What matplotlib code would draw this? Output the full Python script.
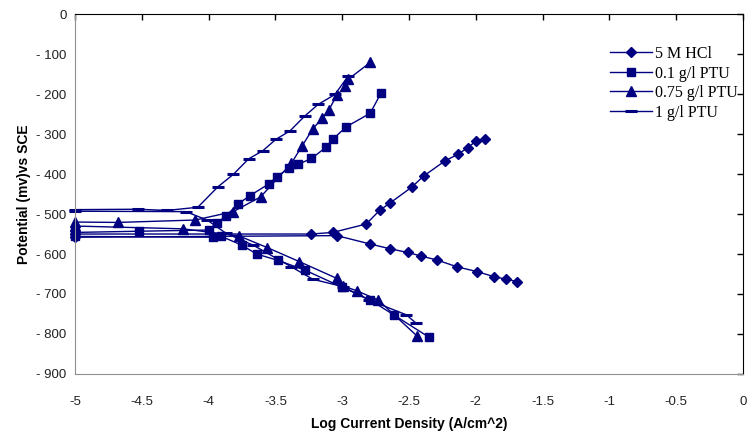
import matplotlib
matplotlib.use("Agg")
import matplotlib.pyplot as plt
import numpy as np

# 5 M HCl (diamonds)
hcl_x = [-1.69, -1.77, -1.86, -1.99, -2.14, -2.29, -2.41, -2.51, -2.64, -2.79, -3.04, -5.0,
         -5.0, -3.23, -3.07, -2.82, -2.72, -2.64, -2.48, -2.39, -2.23, -2.13, -2.06, -2.0, -1.93]
hcl_y = [-669, -663, -657, -644, -632, -615, -605, -596, -587, -575, -554, -558,
         -550, -550, -546, -525, -491, -472, -433, -405, -367, -350, -334, -318, -312]

# 0.1 g/l PTU (squares)
sq_x = [-2.35, -2.61, -2.79, -3.0, -3.28, -3.48, -3.64, -3.75, -3.91, -3.97, -5.0,
        -5.0, -4.52, -4.0, -3.94, -3.87, -3.78, -3.69, -3.55, -3.49, -3.40, -3.33, -3.23,
        -3.12, -3.07, -2.97, -2.79, -2.71]
sq_y = [-808, -753, -715, -683, -640, -616, -600, -578, -555, -558, -556,
        -546, -543, -540, -523, -505, -475, -454, -425, -407, -386, -376, -361,
        -333, -313, -282, -248, -198]

# 0.75 g/l PTU (triangles)
tri_x = [-2.44, -2.73, -2.89, -2.99, -3.04, -3.32, -3.56, -3.77, -4.19, -5.0,
         -5.0, -4.68, -4.10, -3.815, -3.61, -3.38, -3.30, -3.22, -3.15, -3.10, -3.04,
         -2.975, -2.955, -2.79]
tri_y = [-805, -715, -692, -680, -661, -619, -584, -555, -537, -530,
         -520, -521, -515, -494, -457, -373, -330, -287, -261, -240, -203,
         -181, -163, -121]

# 1 g/l PTU (dashes)
ds_x = [-2.45, -2.52, -2.80, -2.99, -3.22, -3.38, -3.665, -3.87, -4.01, -4.17, -5.0,
        -5.0, -4.53, -4.31, -4.08, -3.93, -3.815, -3.70, -3.595, -3.495, -3.39, -3.28,
        -3.18, -3.054, -2.955]
ds_y = [-772, -752, -715, -682, -663, -632, -578, -548, -515, -494, -493,
        -489, -488, -491, -483, -432, -401, -362, -342, -313, -292, -255,
        -226, -201, -155]

labels = ["5 M HCl", "0.1 g/l PTU", "0.75 g/l PTU", "1 g/l PTU"]
navy = "#000080"

fig = plt.figure(figsize=(7.49, 4.41), dpi=100)
ax = fig.add_axes([0.100, 0.152, 0.892, 0.816])

ax.plot(hcl_x, hcl_y, color=navy, lw=1, marker="D", ms=5, label=labels[0], clip_on=False)
ax.plot(sq_x, sq_y, color=navy, lw=1, marker="s", ms=5.5, label=labels[1], clip_on=False)
ax.plot(tri_x, tri_y, color=navy, lw=1, marker="^", ms=6.5, label=labels[2], clip_on=False)
ax.plot(ds_x, ds_y, color=navy, lw=1, marker="_", ms=8, mew=2.2, label=labels[3], clip_on=False)

ax.set_xlim(-5, 0)
ax.set_ylim(-900, 0)
ax.set_xticks(np.arange(-5, 0.01, 0.5))
ax.set_yticks(np.arange(-900, 1, 100))
ax.set_xticklabels([f"{v:g}" for v in np.arange(-5, 0.01, 0.5)])
ax.set_yticklabels([f"{v:g}".replace("-", "- ") for v in np.arange(-900, 1, 100)])

# axes cross at 0: ticks on top/right, labels bottom/left
ax.tick_params(axis="x", bottom=False, top=True, labelbottom=True, labeltop=False,
               direction="in", length=4, width=1, pad=16, labelsize=9.5, labelcolor="#222222")
ax.tick_params(axis="y", left=False, right=True, labelleft=True, labelright=False,
               direction="in", length=4, width=1, pad=6, labelsize=9.5, labelcolor="#222222")
for t in (ax.get_xticklabels() + ax.get_yticklabels()):
    t.set_family("Liberation Sans")

ax.spines["left"].set_color("#909090")
ax.spines["bottom"].set_color("#909090")
ax.spines["top"].set_color("black")
ax.spines["right"].set_color("black")

ax.set_xlabel("Log Current Density (A/cm^2)", fontsize=10, fontweight="bold",
              family="Liberation Sans", labelpad=6)
ax.set_ylabel("Potential (mv)vs SCE", fontsize=10, fontweight="bold",
              family="Liberation Sans", labelpad=4)

leg = ax.legend(loc="upper left", bbox_to_anchor=(610 / 749, 1 - 46 / 441),
                bbox_transform=fig.transFigure, frameon=False, borderpad=0,
                borderaxespad=0, handlelength=2.6, handletextpad=0.2, labelspacing=0.22,
                prop={"family": "Liberation Serif", "size": 11.5})

fig.savefig("out.png", dpi=100)
